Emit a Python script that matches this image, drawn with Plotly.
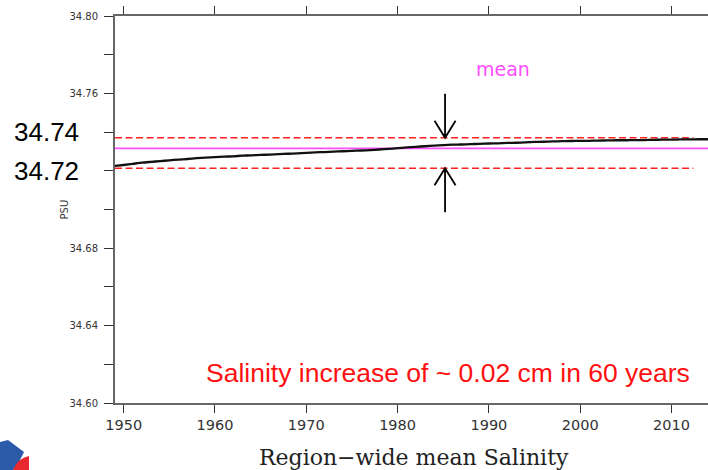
import plotly.graph_objects as go

# ---- data ----
years = list(range(1949, 2015))
salinity = [
    34.7225, 34.7230, 34.7236, 34.7242, 34.7246, 34.7250, 34.7254, 34.7258, 34.7261, 34.7265,
    34.7268, 34.7271, 34.7273, 34.7275, 34.7278, 34.7280, 34.7282, 34.7284, 34.7286, 34.7288,
    34.7290, 34.7293, 34.7295, 34.7297, 34.7299, 34.7301, 34.7303, 34.7305, 34.7307, 34.7310,
    34.7313, 34.7317, 34.7321, 34.7324, 34.7327, 34.7330, 34.7333, 34.7335, 34.7336, 34.7338,
    34.7339, 34.7341, 34.7342, 34.7344, 34.7345, 34.7347, 34.7349, 34.7350, 34.7352, 34.7353,
    34.7354, 34.7355, 34.7355, 34.7356, 34.7357, 34.7358, 34.7358, 34.7359, 34.7359, 34.7360,
    34.7361, 34.7361, 34.7362, 34.7362, 34.7363, 34.7363,
]
mean_value = 34.7316
band_upper = 34.7371
band_lower = 34.7213
band_years = [1949.05, 2012.4]
mean_years = [1949.05, 2014.0]
arrow_year = 1985.2

x_range = [1949.05, 2014.0]
y_range = [34.60, 34.80]
x_ticks = [1950, 1960, 1970, 1980, 1990, 2000, 2010]
y_tickvals = [34.60, 34.62, 34.64, 34.66, 34.68, 34.70, 34.72, 34.74, 34.76, 34.78, 34.80]
y_ticktext = ["34.60", "", "34.64", "", "34.68", "", "", "", "34.76", "", "34.80"]
big_labels = ["34.74", "34.72"]
big_label_vals = [34.74, 34.72]

fig = go.Figure()

fig.add_trace(go.Scatter(x=mean_years, y=[mean_value, mean_value], mode="lines",
                         line=dict(color="#ff4dff", width=1.6), hoverinfo="skip"))
for v in (band_upper, band_lower):
    fig.add_trace(go.Scatter(x=band_years, y=[v, v], mode="lines",
                             line=dict(color="#ff2020", width=1.6, dash="7px,3.5px"),
                             hoverinfo="skip"))
fig.add_trace(go.Scatter(x=years, y=salinity, mode="lines", line_shape="spline",
                         line=dict(color="#111111", width=2.3, smoothing=0.6)))

# arrows (open V heads) anchored on the band lines, sized in pixels
fig.add_shape(type="path", xref="x", yref="y", xsizemode="pixel", ysizemode="pixel",
              xanchor=arrow_year, yanchor=band_upper,
              path="M0,44 L0,0 M-10.5,17 L0,0 L10.5,17",
              line=dict(color="black", width=1.8))
fig.add_shape(type="path", xref="x", yref="y", xsizemode="pixel", ysizemode="pixel",
              xanchor=arrow_year, yanchor=band_lower,
              path="M0,-44 L0,0 M-10.5,-17 L0,0 L10.5,-17",
              line=dict(color="black", width=1.8))


def px(xp):
    return (xp - 115) / 593


def py(yp):
    return (403 - yp) / 387


annotations = []
for t, v in zip(big_labels, big_label_vals):
    annotations.append(dict(x=px(46), y=v, xref="paper", yref="y", text=t, showarrow=False,
                            xanchor="center", yanchor="middle",
                            font=dict(family="Liberation Sans, Arial", size=26, color="black")))
annotations.append(dict(x=px(503), y=py(69), xref="paper", yref="paper", text="mean",
                        showarrow=False, xanchor="center", yanchor="middle",
                        font=dict(family="DejaVu Sans", size=19, color="#ff4dff")))
annotations.append(dict(x=px(448), y=py(373), xref="paper", yref="paper",
                        text="Salinity increase of ~ 0.02 cm in 60 years", showarrow=False,
                        xanchor="center", yanchor="middle",
                        font=dict(family="Liberation Sans, Arial", size=26.5, color="#ff1010")))
annotations.append(dict(x=px(57), y=py(210), xref="paper", yref="paper",
                        text="PSU", showarrow=False, textangle=-90,
                        font=dict(family="DejaVu Sans", size=10, color="#333333")))
annotations.append(dict(x=px(414), y=py(457), xref="paper", yref="paper",
                        text="Region\u2212wide mean Salinity", showarrow=False,
                        xanchor="center", yanchor="middle",
                        font=dict(family="DejaVu Serif", size=22, color="#222222")))

# partial logo in the lower-left corner
logo_blue = "M{},{} L{},{} L{},{} L{},{} L{},{} L{},{} Z".format(
    px(0), py(442), px(8), py(440), px(24), py(452), px(19), py(462), px(13), py(470), px(0), py(470))
logo_red = "M{},{} Q{},{} {},{} L{},{} L{},{} Z".format(
    px(13), py(470), px(18), py(458), px(29), py(456), px(29), py(470), px(13), py(470))
fig.add_shape(type="path", xref="paper", yref="paper", path=logo_blue,
              fillcolor="#2a5aa8", line=dict(width=0))
fig.add_shape(type="path", xref="paper", yref="paper", path=logo_red,
              fillcolor="#e8282e", line=dict(width=0))

fig.update_layout(
    width=708, height=470,
    margin=dict(l=115, r=0, t=16, b=67),
    paper_bgcolor="white", plot_bgcolor="white",
    showlegend=False,
    annotations=annotations,
    xaxis=dict(range=x_range, tickvals=x_ticks, ticks="outside", ticklen=8, tickwidth=1.3,
               tickcolor="#333333", showline=True, linecolor="#666666", linewidth=1.8,
               mirror="ticks", showgrid=False, zeroline=False,
               tickfont=dict(family="DejaVu Sans", size=14.5, color="#333333")),
    yaxis=dict(range=y_range, tickvals=y_tickvals, ticktext=y_ticktext, ticks="outside",
               ticklen=9, tickwidth=1.3, tickcolor="#333333", showline=True,
               linecolor="#666666", linewidth=1.8, mirror=False, showgrid=False,
               zeroline=False, ticklabelstandoff=4,
               tickfont=dict(family="DejaVu Sans", size=10, color="#333333")),
)

fig.write_html("out.html")
